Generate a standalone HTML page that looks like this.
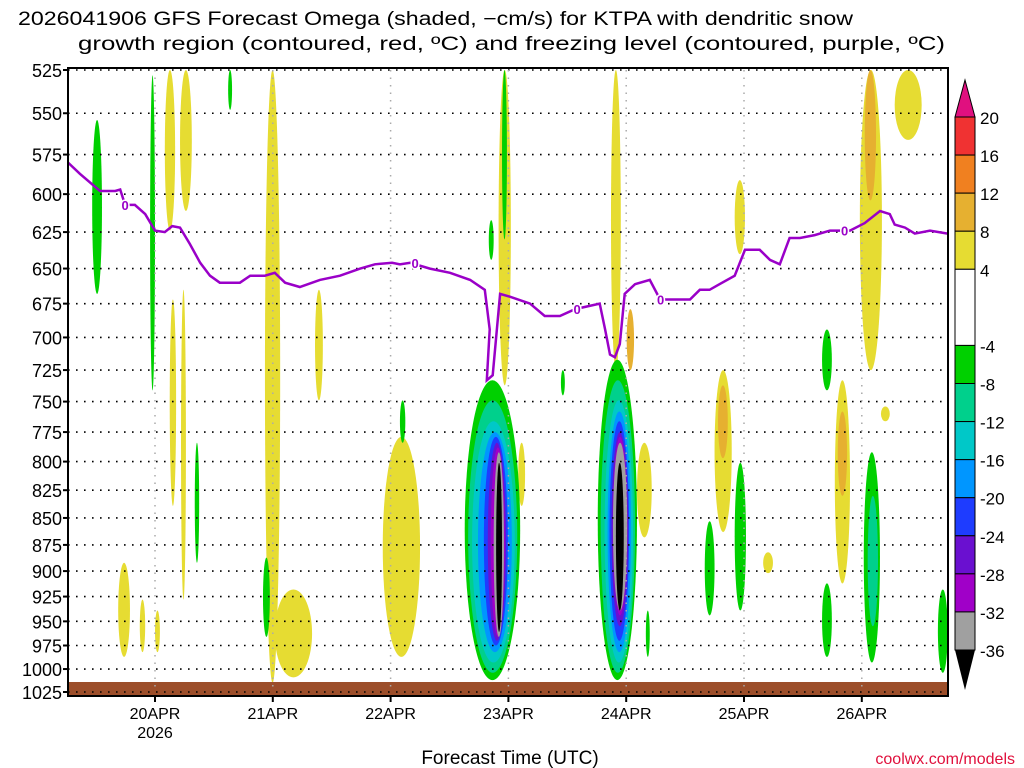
<!DOCTYPE html>
<html><head><meta charset="utf-8"><style>
html,body{margin:0;padding:0;background:#fff;}
svg{display:block;font-family:"Liberation Sans",sans-serif;}
</style></head><body>
<svg id="chart" width="1024" height="768" viewBox="0 0 1024 768">
<text x="18" y="25" textLength="835" lengthAdjust="spacingAndGlyphs" font-size="19" fill="#000">2026041906 GFS Forecast Omega (shaded, −cm/s) for KTPA with dendritic snow</text>
<text x="78" y="50" textLength="867" lengthAdjust="spacingAndGlyphs" font-size="19" fill="#000">growth region (contoured, red, ºC) and freezing level (contoured, purple, ºC)</text>
<g id="shade"></g>
<g id="grid"></g>
<g id="frz"></g>
<g id="yax"></g>
<g id="xax"></g>
<g id="cbar"></g>
<text x="510" y="764" text-anchor="middle" font-size="19" fill="#000">Forecast Time (UTC)</text>
<text x="1015" y="764" text-anchor="end" font-size="16" fill="#e0103c">coolwx.com/models</text>
</svg>
<script>
const pressureTicks=[525,550,575,600,625,650,675,700,725,750,775,800,825,850,875,900,925,950,975,1000,1025];
const dayLabels=["20APR","21APR","22APR","23APR","24APR","25APR","26APR"];
const dayHours=[0,24,48,72,96,120,144];
const cbLevels=[20,16,12,8,4,-4,-8,-12,-16,-20,-24,-28,-32,-36];
const cbColors=["#f03232","#f08020","#e6b030","#e6dc32","#ffffff","#00d000","#00d08c","#00c8c8","#0096ff","#1e3cff","#6a10d0","#a000c8","#a0a0a0"];
// blobs: [hourStart, hourEnd, pTop, pBottom, omegaValue]
const blobs=[
[-7.5,-5.1,892,987,6],[-3.1,-2.0,928,982,6],[0,1,939,982,6],
[-12.8,-10.8,554,668,-6],[-1,0,528,741,-6],[2,4.1,525,624,6],[5.1,7.5,525,611,6],
[3,4.3,672,839,6],[5.3,6.3,665,928,6],[8.1,9,784,892,-6],
[22.4,25.5,525,1015,6],[22,23.4,887,966,-6],[24.4,32,918,1009,6],[32.6,34.2,665,749,6],
[46.4,54,779,987,6],[49.9,51,749,784,-6],[68,69,617,644,-6],[70,72.5,525,737,6],[70.7,71.7,525,630,-6],
[74,75.4,784,839,6],[82.7,83.5,725,745,-6],[92.9,94.9,525,725,6],[96.1,97.6,679,725,10],
[98.2,101.2,784,868,6],[100,100.8,939,987,-6],[112,114,853,944,-6],[114,117.5,725,863,6],
[114.7,116.7,737,797,10],[118.1,120.4,801,939,-6],[123.9,125.9,882,902,6],[118.1,120.2,591,640,6],
[135.9,137.9,694,741,-6],[138.5,141.6,733,912,6],[139.1,141,758,830,10],[135.9,137.9,912,987,-6],
[143.6,148.1,525,725,6],[144.6,146.9,525,604,10],[144.4,147.7,792,993,-6],[145.2,147.3,830,955,-10],
[147.9,149.7,754,766,6],[150.7,156.2,525,566,6],[159.5,161.5,918,1004,-6],[14.9,15.7,525,548,-6],
// storm 1
[63.1,74.4,733,1012,-6],[63.8,73.8,749,1004,-10],[64.6,73.3,766,993,-14],[65.8,72.7,775,982,-18],
[67,71.9,779,975,-22],[67.8,71.5,784,970,-26],[68.4,71.3,788,966,-30],[69,71.1,792,966,-34],[69.5,70.7,801,961,-38],
// storm 2
[90.2,98.2,717,1012,-6],[90.8,97.8,733,1004,-10],[91.6,97.4,749,993,-14],[92.2,97,758,982,-18],
[92.6,96.6,766,970,-22],[93,96.4,775,955,-26],[93.3,96.2,779,944,-30],[93.3,96.2,784,939,-34],[93.9,95.5,801,939,-38]
];
const frzHours=[-17.7,-15.3,-11.2,-8.1,-7.1,-6.1,-4.1,-2,0,2,3.5,5.1,7.1,9.2,11.2,13.2,17.3,19.4,22.4,24.4,26.5,29.5,33.6,37.7,41.8,44.8,48.3,49.9,52,56,60.1,64.2,67.2,68.2,67.6,68.8,70.3,72.3,76.4,79.4,82.5,85.6,90.6,91.7,92.7,93.7,94.7,95.7,97.8,100.8,102.9,104.9,109,111,113,115,118.1,120.2,123.2,125.3,127.3,129.3,131.4,134.4,137.5,141.6,144.6,147.7,149.7,150.7,152.8,154.8,157.9,161.5];
const frzPres=[580,587,598,598,597,607,607,613,624,625,621,622,633,646,655,660,660,655,655,653,660,663,658,655,650,647,646,647,646,650,653,658,665,694,733,729,668,670,675,684,684,679,675,694,713,715,705,668,661,658,672,672,672,665,665,661,655,637,637,644,647,629,629,627,624,624,619,611,613,620,622,626,624,626];
const frzLabelHours=[-6.1,53,86,103,140.5];

const NS="http://www.w3.org/2000/svg";
const X0=68,X1=948,Y0=70,Y1=692;
const xS=h=>155+h*117.8/24;
const yS=p=>Y0+(Math.log(p)-Math.log(525))/(Math.log(1025)-Math.log(525))*(Y1-Y0);
function mk(tag,attrs,parent){const e=document.createElementNS(NS,tag);for(const k in attrs)e.setAttribute(k,attrs[k]);parent.appendChild(e);return e;}
function colorFor(v){
  if(v<=-36)return "#000";
  for(let i=0;i<cbLevels.length-1;i++){if(v<=cbLevels[i]&&v>cbLevels[i+1])return cbColors[i];}
  if(v>20)return "#e0107f";return "#fff";
}
const shade=document.getElementById('shade');
const clip=mk('clipPath',{id:'pc'},shade);mk('rect',{x:X0,y:Y0,width:X1-X0,height:Y1-Y0},clip);
const sg=mk('g',{'clip-path':'url(#pc)'},shade);
blobs.forEach(b=>{
  const x0=xS(b[0]),x1=xS(b[1]),y0=yS(b[2]),y1=yS(b[3]);
  const e=mk('ellipse',{cx:(x0+x1)/2,cy:(y0+y1)/2,rx:(x1-x0)/2,ry:(y1-y0)/2,fill:colorFor(b[4])},sg);
  
  
});
const gr=mk('rect',{x:X0,y:682,width:X1-X0,height:14,fill:"#9c4e2a"},shade);


const grid=document.getElementById('grid');
pressureTicks.forEach(p=>{mk('line',{x1:X0,x2:X1,y1:yS(p),y2:yS(p),stroke:"#000","stroke-width":1.6,"stroke-dasharray":"1.6 6.4"},grid);});
dayHours.forEach(h=>{mk('line',{x1:xS(h),x2:xS(h),y1:Y0,y2:Y1,stroke:"#aaa","stroke-width":1.5,"stroke-dasharray":"1.5 6"},grid);});
const frz=document.getElementById('frz');
const pts=frzHours.map((h,i)=>xS(h).toFixed(1)+","+yS(frzPres[i]).toFixed(1)).join(" ");
const pl=mk('polyline',{points:pts,fill:"none",stroke:"#9a00c8","stroke-width":2.5},frz);


frzLabelHours.forEach(h=>{
  let j=0;for(let i=0;i<frzHours.length;i++)if(Math.abs(frzHours[i]-h)<Math.abs(frzHours[j]-h))j=i;
  const t=mk('text',{x:xS(h),y:yS(frzPres[j])+5,"text-anchor":"middle","font-size":13,"font-weight":"bold",fill:"#9a00c8",stroke:"#fff","stroke-width":3,"paint-order":"stroke"},frz);
  t.textContent="0";
  
  
});
const yax=document.getElementById('yax');
mk('rect',{x:X0,y:Y0-2,width:X1-X0,height:Y1-Y0+6,fill:"none",stroke:"#000","stroke-width":2},yax);
pressureTicks.forEach(p=>{
  mk('line',{x1:X0-5,x2:X0,y1:yS(p),y2:yS(p),stroke:"#000","stroke-width":2},yax);
  const t=mk('text',{x:X0-6,y:yS(p)+7,"text-anchor":"end","font-size":18,fill:"#000"},yax);
  t.textContent=p;
  
  
});
const xax=document.getElementById('xax');
dayHours.forEach((h,i)=>{
  mk('line',{x1:xS(h),x2:xS(h),y1:Y1+4,y2:Y1+10,stroke:"#000","stroke-width":2},xax);
  const t=mk('text',{x:xS(h),y:719,"text-anchor":"middle","font-size":16,fill:"#000"},xax);
  t.textContent=dayLabels[i];
  
  
});
const yr=mk('text',{x:xS(0),y:738,"text-anchor":"middle","font-size":16,fill:"#000"},xax);yr.textContent="2026";


const cb=document.getElementById('cbar');
const cbY=v=>117+(20-v)*(650-117)/56;
mk('polygon',{points:"955,117 975,117 965,80",fill:"#e0107f",stroke:"#000"},cb);
for(let i=0;i<cbLevels.length-1;i++){
  const r=mk('rect',{x:955,y:cbY(cbLevels[i]),width:20,height:cbY(cbLevels[i+1])-cbY(cbLevels[i]),fill:cbColors[i],stroke:"#000","stroke-width":1},cb);
  
  
}
mk('polygon',{points:"955,650 975,650 965,690",fill:"#000"},cb);
cbLevels.forEach(v=>{
  const t=mk('text',{x:980,y:cbY(v)+7,"font-size":17,fill:"#000"},cb);
  t.textContent=v;
  
  
});
</script>
</body></html>
